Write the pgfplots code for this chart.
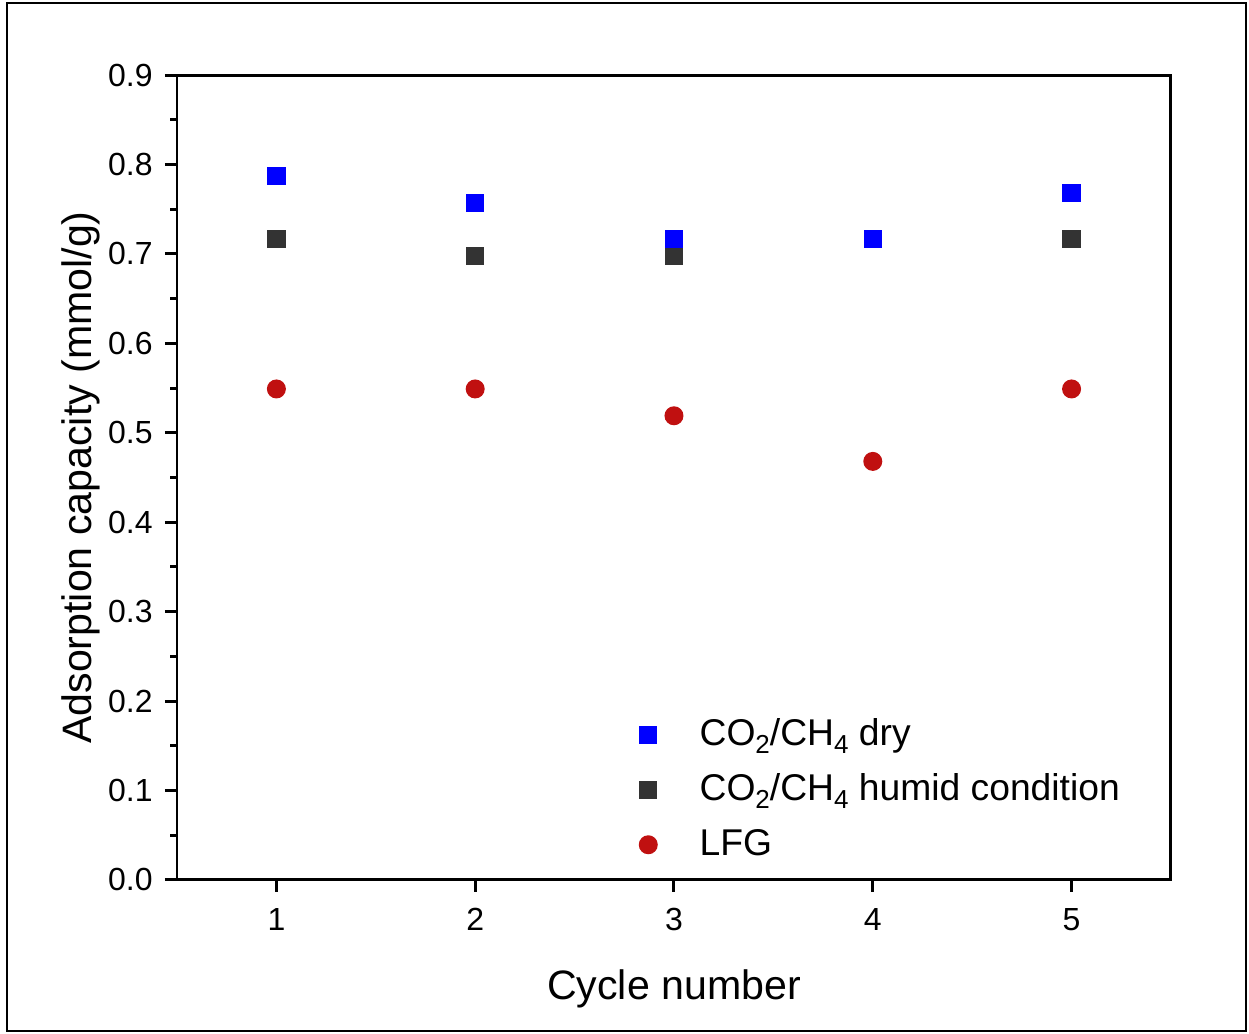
\documentclass[border=0pt]{standalone}
\usepackage{pgfplots}
\pgfplotsset{compat=1.18}
\usepackage{fontspec}
\setmainfont{Liberation Sans}
\definecolor{cblue}{RGB}{0,0,255}
\definecolor{cgray}{RGB}{51,51,51}
\definecolor{cred}{RGB}{192,16,16}
\newcommand{\sub}[1]{\raisebox{-0.4ex}{\fontsize{7.4}{8}\selectfont #1}}
\begin{document}
\begin{tikzpicture}
\useasboundingbox (-1.77cm,-1.54cm) rectangle (10.72cm,8.80cm);
\draw[line width=0.6pt] (-1.70cm,-1.51cm) rectangle (10.69cm,8.77cm);
\begin{axis}[at={(0,0)}, anchor=south west, scale only axis, width=9.94cm, height=8.05cm,
 xmin=0.5, xmax=5.5, ymin=0, ymax=0.9,
 xtick={1,2,3,4,5}, ytick={0,0.1,0.2,0.3,0.4,0.5,0.6,0.7,0.8,0.9}, minor y tick num=1,
 tick align=outside, xtick pos=bottom, ytick pos=left,
 major tick length=1.2mm, minor tick length=0.65mm,
 axis line style={line width=0.85pt},
 every tick/.style={line width=0.85pt, black},
 yticklabel style={/pgf/number format/.cd, fixed, fixed zerofill, precision=1, /tikz/.cd},
 xticklabel style={yshift=-0.4mm},
 /pgf/number format/assume math mode=true,
 tick label style={font=\fontsize{9.1}{11}\selectfont},
 label style={font=\fontsize{11.7}{14}\selectfont},
 xlabel={Cycle number}, ylabel={Adsorption capacity (mmol/g)},
 xlabel style={yshift=-1.5mm}, ylabel style={yshift=-1.6mm},
 legend style={draw=none, fill=none, font=\fontsize{10.6}{12}\selectfont,
   at={(rel axis cs:0.454,0.219)}, anchor=north west, row sep=0.9mm},
 legend cell align=left,
 ]
\addlegendimage{only marks, mark=square*, mark size=2.35pt, color=cblue}
\addlegendimage{only marks, mark=square*, mark size=2.35pt, color=cgray}
\addlegendimage{only marks, mark=*, mark size=2.5pt, color=cred}
\addplot[only marks, mark=square*, mark size=2.4pt, color=cgray, forget plot] coordinates {(1,0.717) (2,0.698) (3,0.698) (4,0.717) (5,0.717)};
\addplot[only marks, mark=square*, mark size=2.4pt, color=cblue, forget plot] coordinates {(1,0.787) (2,0.757) (3,0.717) (4,0.717) (5,0.768)};
\addplot[only marks, mark=*, mark size=2.5pt, color=cred, forget plot] coordinates {(1,0.549) (2,0.549) (3,0.519) (4,0.468) (5,0.549)};
\legend{\hspace*{3.55mm}CO\sub{2}/CH\sub{4} dry, \hspace*{3.55mm}CO\sub{2}/CH\sub{4} humid condition, \hspace*{3.55mm}LFG}
\end{axis}
\end{tikzpicture}
\end{document}
